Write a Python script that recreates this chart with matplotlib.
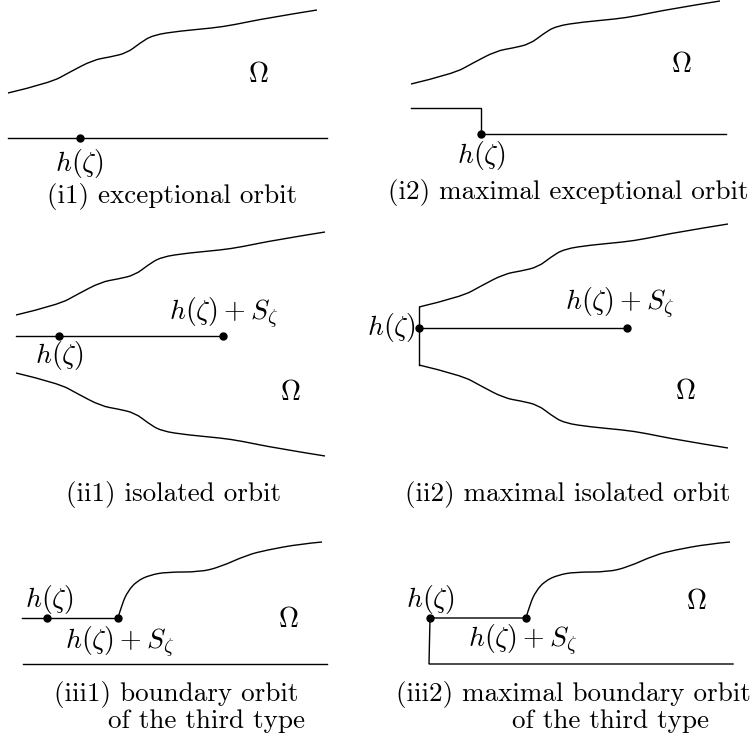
import numpy as np
import matplotlib
matplotlib.use('Agg')
import matplotlib.pyplot as plt
from matplotlib.path import Path
from matplotlib.patches import PathPatch

plt.rcParams['mathtext.fontset'] = 'cm'
plt.rcParams['font.family'] = ['cmr10', 'DejaVu Serif']
plt.rcParams['axes.unicode_minus'] = False

wave_x = [8, 50, 70, 93, 110, 127, 140, 153, 180, 213, 233, 267, 317]
wave_y = [93, 83, 72, 60, 57, 53, 43, 35, 31, 28, 25, 18, 10]

# rising boundary shape for the (iii) panels
rise_x = [118, 122, 128, 137, 150, 167, 200, 220, 247, 267, 300, 322]
rise_y = [618, 604, 591, 581, 575, 572, 572, 567, 555, 550, 544, 542]

# panel offsets for the wave shape: (dx, dy)
wave_offsets = {'i1': (0, 0), 'i2': (403, -9), 'ii1': (8, 222), 'ii2': (411, 214)}
mirror_y = {'ii1': 688, 'ii2': 672}
rise_offsets = {'iii1': 0, 'iii2': 408}

# straight segments (polylines)
segments = [
    [(8, 138), (327, 138)],                                   # i1
    [(411, 108), (481, 108), (481, 134), (726, 134)],         # i2
    [(16, 336), (223, 336)],                                  # ii1
    [(419, 307), (419, 365)],                                 # ii2 wall
    [(419, 328), (627, 328)],                                 # ii2 slit
    [(22, 618), (118, 618)],                                  # iii1
    [(23, 664), (327, 664)],                                  # iii1 bottom
    [(526, 618), (430, 618), (429, 664), (733, 664)],         # iii2
]

dots_x = [80, 481, 59, 223, 419, 627, 47, 118, 430, 526]
dots_y = [138, 134, 336, 336, 328, 328, 618, 618, 618, 618]

H = r'$h(\zeta)$'
HS = r'$h(\zeta) + S_\zeta$'
OM = r'$\Omega$'
labels = [
    (H, 80, 163, 'center'), (OM, 258, 75, 'center'),
    (H, 482, 156, 'center'), (OM, 681, 65, 'center'),
    (HS, 224, 313, 'center'), (H, 60, 355, 'center'), (OM, 290, 393, 'center'),
    (H, 416, 328, 'right'), (HS, 620, 303, 'center'), (OM, 685, 392, 'center'),
    (H, 50, 600, 'center'), (HS, 120, 642, 'center'), (OM, 288, 620, 'center'),
    (H, 431, 600, 'center'), (HS, 523, 640, 'center'), (OM, 696, 602, 'center'),
]

captions = [
    ('(i1) exceptional orbit', 172, 196, 'center'),
    ('(i2) maximal exceptional orbit', 388, 192, 'left'),
    ('(ii1) isolated orbit', 173, 494, 'center'),
    ('(ii2) maximal isolated orbit', 568, 494, 'center'),
    ('(iii1) boundary orbit', 176, 694, 'center'),
    ('of the third type', 207, 721, 'center'),
    ('(iii2) maximal boundary orbit', 396, 694, 'left'),
    ('of the third type', 611, 721, 'center'),
]


def smooth_path(xs, ys):
    # quadratic B-spline through the read points, drawn by matplotlib
    pts = list(zip(xs, ys))
    verts = [pts[0]]
    codes = [Path.MOVETO]
    for i in range(1, len(pts) - 2):
        mid = ((pts[i][0] + pts[i + 1][0]) / 2, (pts[i][1] + pts[i + 1][1]) / 2)
        verts += [pts[i], mid]
        codes += [Path.CURVE3, Path.CURVE3]
    verts += [pts[-2], pts[-1]]
    codes += [Path.CURVE3, Path.CURVE3]
    return Path(verts, codes)


fig = plt.figure(figsize=(7.52, 7.47), dpi=100)
ax = fig.add_axes([0, 0, 1, 1])
ax.set_xlim(0, 752)
ax.set_ylim(747, 0)
ax.axis('off')

lw = 1.0
for key, (dx, dy) in wave_offsets.items():
    xs = [x + dx for x in wave_x]
    ys = [y + dy for y in wave_y]
    ax.add_patch(PathPatch(smooth_path(xs, ys), fill=False, lw=lw, color='black'))
    if key in mirror_y:
        ys2 = [mirror_y[key] - y for y in ys]
        ax.add_patch(PathPatch(smooth_path(xs, ys2), fill=False, lw=lw, color='black'))

for key, dx in rise_offsets.items():
    xs = [x + dx for x in rise_x]
    ax.add_patch(PathPatch(smooth_path(xs, rise_y), fill=False, lw=lw, color='black'))

for seg in segments:
    sx, sy = zip(*seg)
    ax.plot(sx, sy, color='black', lw=lw, solid_joinstyle='miter')

ax.plot(dots_x, dots_y, 'o', color='black', ms=5, zorder=5)

for txt, x, y, ha in labels:
    ax.text(x, y, txt, fontsize=20, ha=ha, va='center')

for txt, x, y, ha in captions:
    ax.text(x, y, txt, fontsize=19.5, ha=ha, va='center', family=['cmr10', 'DejaVu Serif'])

fig.savefig('out.png', dpi=100)
